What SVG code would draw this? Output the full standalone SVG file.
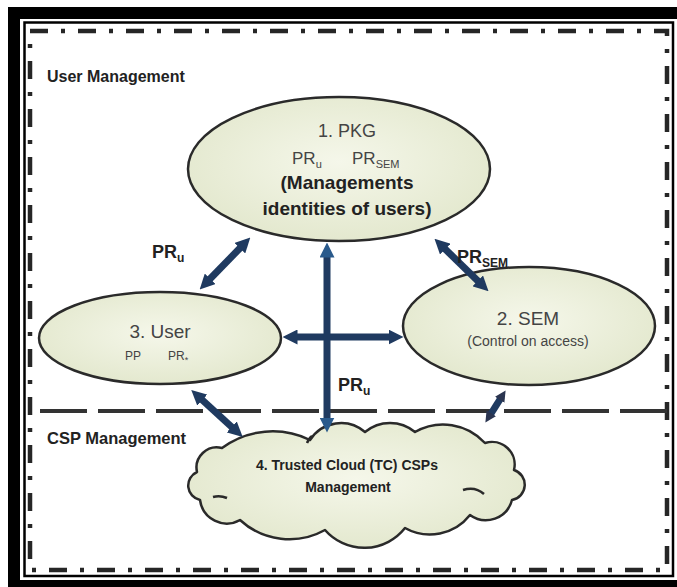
<svg xmlns="http://www.w3.org/2000/svg" width="677" height="587" viewBox="0 0 677 587">
<defs>
<radialGradient id="fillG" cx="50%" cy="45%" r="60%">
<stop offset="0" stop-color="#F5F7EA"/>
<stop offset="1" stop-color="#E2E7CC"/>
</radialGradient>
<marker id="ah" viewBox="0 0 10 10" refX="3" refY="5" markerWidth="15" markerHeight="15" markerUnits="userSpaceOnUse" orient="auto-start-reverse">
<path d="M0,0 L10,5 L0,10 z" fill="#1F3A60"/>
</marker>
<marker id="ahv" viewBox="0 0 10 10" refX="3" refY="5" markerWidth="15" markerHeight="15" markerUnits="userSpaceOnUse" orient="auto-start-reverse">
<path d="M0,0 L10,5 L0,10 z" fill="#2A5A8C"/>
</marker>
<marker id="ahs" viewBox="0 0 10 10" refX="3" refY="5" markerWidth="11" markerHeight="11" markerUnits="userSpaceOnUse" orient="auto-start-reverse">
<path d="M0,0 L10,5 L0,10 z" fill="#2B3550"/>
</marker>
</defs>
<style>
.node{fill:url(#fillG);stroke:#2a2a2a;stroke-width:2.5}
.t{font-family:"Liberation Sans",Arial,sans-serif;fill:#444}
.b{font-family:"Liberation Sans",Arial,sans-serif;font-weight:bold;fill:#222}
.c{fill:none;stroke:#1F3A60;stroke-width:7}
</style>
<rect x="0" y="0" width="677" height="587" fill="#fff"/>
<g id="frame">
<path fill="#000" d="M8 7 H677 V19 H20 V580 H677 V587 H8 Z"/>
<rect x="24.5" y="22.5" width="648.5" height="553.5" fill="none" stroke="#000" stroke-width="2.5"/>
<rect x="30" y="31" width="637" height="539" fill="none" stroke="#262626" stroke-width="4.5" stroke-dasharray="18 13 4 13"/>
<line x1="40" y1="411" x2="667" y2="411" stroke="#333" stroke-width="4" stroke-dasharray="47 11"/>
<text class="b" x="47" y="82" font-size="16">User Management</text>
<text class="b" x="47" y="444" font-size="16.5">CSP Management</text>
</g>
<g id="pkg">
<ellipse class="node" cx="339" cy="169" rx="151" ry="72"/>
<text class="t" x="347" y="137" font-size="18" text-anchor="middle">1. PKG</text>
<text class="t" x="292" y="164" font-size="17">PR<tspan font-size="11" dy="4">u</tspan></text>
<text class="t" x="352" y="164" font-size="17">PR<tspan font-size="11" dy="4">SEM</tspan></text>
<text class="b" x="347" y="189" font-size="19" text-anchor="middle">(Managements</text>
<text class="b" x="347" y="215" font-size="19" text-anchor="middle">identities of users)</text>
</g>
<g id="user">
<ellipse class="node" cx="160" cy="338" rx="121" ry="46"/>
<text class="t" x="160" y="338" font-size="19" text-anchor="middle">3. User</text>
<text class="t" x="125" y="360" font-size="12">PP</text>
<text class="t" x="168" y="360" font-size="12">PR<tspan font-size="9" dy="3">*</tspan></text>
</g>
<g id="sem">
<ellipse class="node" cx="529" cy="326" rx="126" ry="59"/>
<text class="t" x="528" y="325" font-size="19" text-anchor="middle">2. SEM</text>
<text class="t" x="528" y="346" font-size="14" text-anchor="middle">(Control on access)</text>
</g>
<g id="cloud">
<path class="node" stroke-width="3" stroke-linejoin="round" d="M200 500 A14.8 14.8 0 0 1 197 472 A20.3 20.3 0 0 1 222 448 A85 85 0 0 1 310 440 A36.7 36.7 0 0 1 365 432 A39 39 0 0 1 415 432 A56.6 56.6 0 0 1 485 443 A22.7 22.7 0 0 1 514 470 A15.5 15.5 0 0 1 512 500 A27 27 0 0 1 470 515 A51 51 0 0 1 405 528 A52 52 0 0 1 325 530 A73 73 0 0 1 240 520 A27 27 0 0 1 200 500 Z"/>
<path d="M463 490 Q475 486 484 494 M213 497 Q220 495 227 498 M307 443 Q309 438 312 436" fill="none" stroke="#2a2a2a" stroke-width="2.5"/>
<text class="b" x="347" y="470" font-size="14" text-anchor="middle" fill="#333">4. Trusted Cloud (TC) CSPs</text>
<text class="b" x="348" y="492" font-size="14" text-anchor="middle" fill="#333">Management</text>
</g>
<g id="connectors">
<line class="c" x1="243" y1="245" x2="207" y2="282" marker-start="url(#ah)" marker-end="url(#ah)"/>
<line class="c" x1="442" y1="246" x2="481" y2="284" marker-start="url(#ah)" marker-end="url(#ah)"/>
<line class="c" x1="293" y1="337" x2="393" y2="337" marker-start="url(#ah)" marker-end="url(#ah)"/>
<line class="c" x1="327" y1="253" x2="327" y2="422" stroke="#2A5A8C" marker-start="url(#ahv)" marker-end="url(#ahv)"/>
<line class="c" x1="199" y1="397" x2="235" y2="430" marker-start="url(#ah)" marker-end="url(#ah)"/>
<line class="c" x1="501.5" y1="397" x2="489.5" y2="416" stroke="#2B3550" stroke-width="5" marker-start="url(#ahs)" marker-end="url(#ahs)"/>
<text class="b" x="152" y="258" font-size="18">PR<tspan font-size="12" dy="4">u</tspan></text>
<text class="b" x="457" y="263" font-size="18">PR<tspan font-size="12" dy="4">SEM</tspan></text>
<text class="b" x="338" y="391" font-size="18">PR<tspan font-size="12" dy="4">u</tspan></text>
</g>
</svg>
